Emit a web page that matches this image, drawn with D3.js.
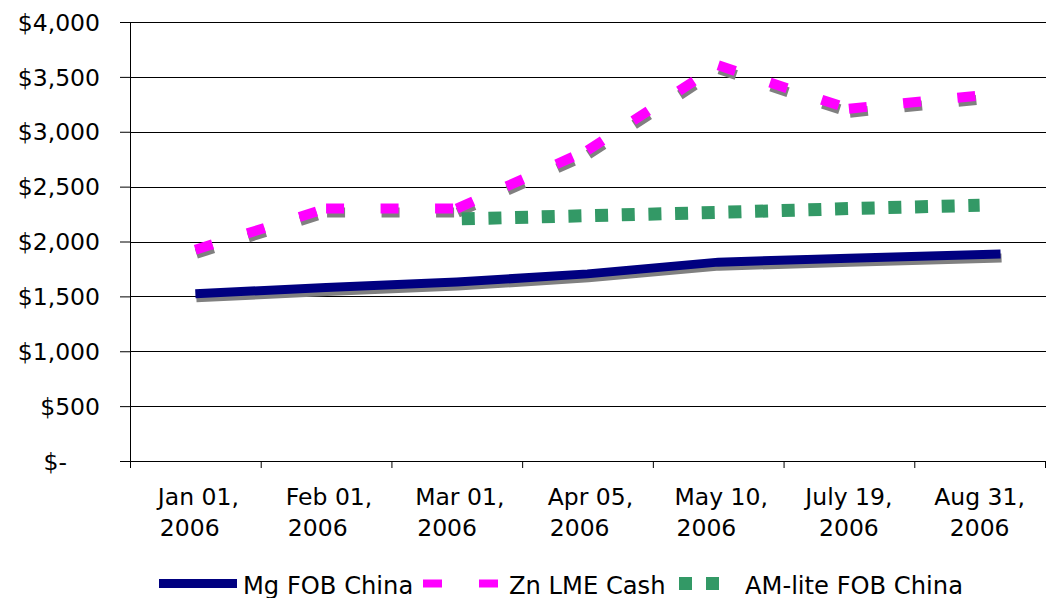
<!DOCTYPE html>
<html>
<head>
<meta charset="utf-8">
<script src="https://d3js.org/d3.v7.min.js"></script>
<style>
  body { margin: 0; background: #fff; }
  text { font-family: "DejaVu Sans", Verdana, sans-serif; fill: #000; }
</style>
</head>
<body>
<div id="chart"></div>
<script>
// x axis categories (label is wrapped after the comma)
var categories = ["Jan 01, 2006", "Feb 01, 2006", "Mar 01, 2006", "Apr 05, 2006",
                  "May 10, 2006", "July 19, 2006", "Aug 31, 2006"];

// each point: [position in category units, price $/t]
var mgFob  = [[0.5, 1525], [1.5, 1580], [2.5, 1630], [3.5, 1705], [4.5, 1812], [5.5, 1847], [6.66, 1886]];
var znLme  = [[0.5, 1925], [1.5, 2300], [2.5, 2300], [3.5, 2830], [4.5, 3605], [5.5, 3210], [6.5, 3330]];
var amLite = [[2.5, 2205], [3.5, 2235], [4.5, 2265], [5.5, 2300], [6.5, 2330]];

var yTicks = [0, 500, 1000, 1500, 2000, 2500, 3000, 3500, 4000];
var seriesNames = ["Mg FOB China", "Zn LME Cash", "AM-lite FOB China"];

var W = 1046, H = 598;
var plot = {left: 130, right: 1045, top: 22, bottom: 461};
var fontSize = "23.5px";

var svg = d3.select("#chart")
  .append("svg")
    .attr("width", W)
    .attr("height", H);

var x = d3.scaleLinear().domain([0, categories.length]).range([plot.left, plot.right]);
var y = d3.scaleLinear().domain([0, 4000]).range([plot.bottom, plot.top]);

// horizontal gridlines
svg.append("g")
  .selectAll("line")
  .data(yTicks.filter(function(d) { return d > 0; }))
  .enter().append("line")
    .attr("x1", plot.left)
    .attr("x2", W)
    .attr("y1", function(d) { return Math.round(y(d)) + 0.5; })
    .attr("y2", function(d) { return Math.round(y(d)) + 0.5; })
    .attr("stroke", "#000")
    .attr("stroke-width", 1);

// y axis
var yAxis = svg.append("g")
  .attr("transform", "translate(" + plot.left + ",0)")
  .call(d3.axisLeft(y)
    .tickValues(yTicks)
    .tickSize(10)
    .tickSizeOuter(0)
    .tickFormat(function(d) { return d === 0 ? "$-" : "$" + d3.format(",")(d); }));
yAxis.selectAll("line, path").attr("stroke", "#000");
yAxis.selectAll("text")
  .style("font-size", fontSize)
  .style("font-family", "'DejaVu Sans', Verdana, sans-serif")
  .attr("fill", "#000")
  .attr("x", function(d) { return d === 0 ? -63 : -30; })
  .attr("dy", "0.35em");

// x axis, ticks on the category boundaries
var xAxis = svg.append("g")
  .attr("transform", "translate(0," + plot.bottom + ")")
  .call(d3.axisBottom(x)
    .tickValues(d3.range(0, categories.length + 1))
    .tickSize(7)
    .tickSizeOuter(0)
    .tickFormat(""));
xAxis.selectAll("line, path").attr("stroke", "#000");
xAxis.select(".domain").attr("d", "M" + plot.left + ",0.5H" + W);

// two-line category labels
var labels = svg.append("g").selectAll("g")
  .data(categories)
  .enter().append("g");

labels.each(function(d, i) {
  var g = d3.select(this);
  var parts = d.split(", ");
  var cx = x(i + 0.5);
  var first = g.append("text")
    .style("font-size", fontSize)
    .attr("y", 505)
    .text(parts[0] + ",");
  var w = first.node().getComputedTextLength();
  if (i < 5) {
    // these labels sit left aligned in the source chart
    var x0 = cx + 3 - w / 2;
    first.attr("x", x0);
    g.append("text").style("font-size", fontSize)
      .attr("x", x0 + 2).attr("y", 536).text(parts[1]);
  } else {
    first.attr("x", cx).attr("text-anchor", "middle");
    g.append("text").style("font-size", fontSize)
      .attr("x", cx).attr("y", 536).attr("text-anchor", "middle").text(parts[1]);
  }
});

var line = d3.line()
  .x(function(d) { return x(d[0]); })
  .y(function(d) { return y(d[1]); });

// Zn dashes restart at every point, so draw it segment by segment
var znSegments = d3.pairs(znLme);

// shadows first
svg.append("path")
  .datum(mgFob)
  .attr("d", line)
  .attr("transform", "translate(1,4)")
  .attr("fill", "none")
  .attr("stroke", "#808080")
  .attr("stroke-width", 9);

svg.append("g")
  .attr("transform", "translate(1,4)")
  .selectAll("path")
  .data(znSegments)
  .enter().append("path")
    .attr("d", line)
    .attr("fill", "none")
    .attr("stroke", "#808080")
    .attr("stroke-width", 10)
    .attr("stroke-dasharray", "18,36.5");

svg.append("path")
  .datum(mgFob)
  .attr("d", line)
  .attr("fill", "none")
  .attr("stroke", "#000080")
  .attr("stroke-width", 9);

svg.append("g")
  .selectAll("path")
  .data(znSegments)
  .enter().append("path")
    .attr("d", line)
    .attr("fill", "none")
    .attr("stroke", "#ff00ff")
    .attr("stroke-width", 10)
    .attr("stroke-dasharray", "18,36.5");

svg.append("path")
  .datum(amLite)
  .attr("d", line)
  .attr("fill", "none")
  .attr("stroke", "#339966")
  .attr("stroke-width", 13)
  .attr("stroke-dasharray", "13,13.67")
  .attr("stroke-dashoffset", 21.67);

// legend
var legend = svg.append("g").attr("transform", "translate(0,583.5)");

legend.append("line")
  .attr("x1", 159).attr("x2", 237)
  .attr("stroke", "#000080").attr("stroke-width", 9);
legend.append("line")
  .attr("x1", 423).attr("x2", 503)
  .attr("stroke", "#ff00ff").attr("stroke-width", 8)
  .attr("stroke-dasharray", "19,37");
legend.append("line")
  .attr("x1", 679).attr("x2", 719)
  .attr("stroke", "#339966").attr("stroke-width", 13)
  .attr("stroke-dasharray", "13,14");

legend.selectAll("text")
  .data(seriesNames)
  .enter().append("text")
    .style("font-size", "24.2px")
    .attr("x", function(d, i) { return [243, 509, 745][i]; })
    .attr("y", 10.5)
    .text(function(d) { return d; });
</script>
</body>
</html>
